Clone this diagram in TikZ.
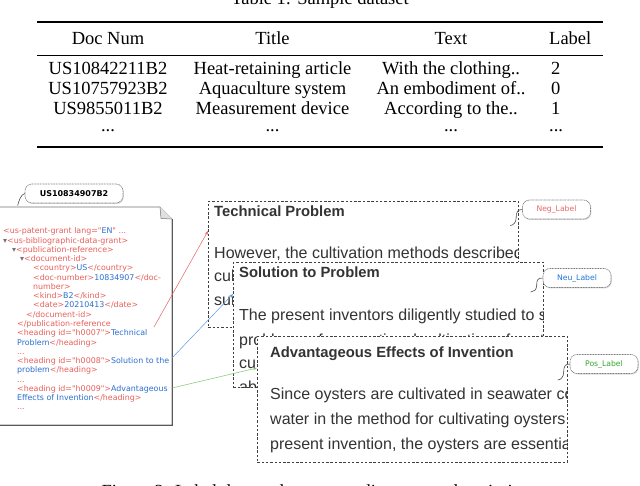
\documentclass[tikz,border=0pt]{standalone}
\usepackage{fontspec}
\setmainfont{Liberation Serif}
\newfontfamily\xmlf{DejaVu Sans}
\newfontfamily\panf{Liberation Sans}
\usetikzlibrary{arrows.meta,shadows}
\definecolor{xred}{HTML}{E8605A}
\definecolor{xblue}{HTML}{2A6FD0}
\definecolor{ptext}{HTML}{333333}
\definecolor{negc}{HTML}{E86A6A}
\definecolor{neuc}{HTML}{2277DD}
\definecolor{posc}{HTML}{33AA33}
\definecolor{arred}{HTML}{E06666}
\definecolor{arblue}{HTML}{5B9BE0}
\definecolor{argreen}{HTML}{7CC46A}
\newcommand\xt[1]{\textcolor{xred}{#1}}
\newcommand\xv[1]{\textcolor{xblue}{#1}}
\newcommand\xtri{\textcolor{black!55}{▾}}
\begin{document}
\begin{tikzpicture}[x=1pt,y=-1pt,
  tbl/.style={font=\fontsize{18.5}{20}\selectfont, inner sep=0pt, anchor=base},
  tbll/.style={font=\fontsize{18.5}{20}\selectfont, inner sep=0pt, anchor=base west},
  xml/.style={font=\xmlf\fontsize{7.9}{9}\selectfont, inner sep=0pt, anchor=base west, text=xred},
  ptitle/.style={font=\panf\bfseries\fontsize{14.8}{16}\selectfont, text=ptext, inner sep=0pt, anchor=base west},
  pbody/.style={font=\panf\fontsize{16}{18}\selectfont, text=ptext, inner sep=0pt, anchor=base west},
  panel/.style={draw=black!75, fill=white, dash pattern=on 2.5pt off 1.8pt, line width=0.7pt, anchor=north west, inner sep=0pt},
  lbl/.style={draw=black!50, fill=white, dash pattern=on 1pt off 0.6pt, line width=0.6pt, rounded corners=7pt,
    drop shadow={opacity=0.3, shadow xshift=0.8pt, shadow yshift=-1pt},
    font=\xmlf\fontsize{7.7}{8}\selectfont, minimum width=68pt, minimum height=19pt, inner sep=0pt},
  tail/.style={draw=black!70, line width=0.6pt},
  conn/.style={line width=0.5pt, -{Stealth[length=4pt,width=3pt]}},
  rule/.style={line width=#1}
]
\useasboundingbox (0,0) rectangle (640,486);
\clip (0,0) rectangle (640,486);

% ---------- table ----------
\node[tbl] (ttl) at (320,4.5) {Table 1: Sample dataset};
\draw[rule=1.4pt] (37,22) -- (603,22);
\draw[rule=0.8pt] (37,55) -- (603,55);
\draw[rule=1.4pt] (37,147) -- (603,147);

\node[tbl] (h1) at (108,45) {Doc Num};
\node[tbl] (h2) at (272.5,45) {Title};
\node[tbl] (h3) at (451,45) {Text};
\node[tbll] (h4) at (549,45) {Label};

\node[tbl] (r1a) at (108,75) {US10842211B2};
\node[tbl] (r1b) at (272.5,75) {Heat-retaining article};
\node[tbl] (r1c) at (451,75) {With the clothing..};
\node[tbll] (r1d) at (551,75) {2};

\node[tbl] (r2a) at (108,95) {US10757923B2};
\node[tbl] (r2b) at (272.5,95) {Aquaculture system};
\node[tbl] (r2c) at (451,95) {An embodiment of..};
\node[tbll] (r2d) at (551,95) {0};

\node[tbl] (r3a) at (108,115) {US9855011B2};
\node[tbl] (r3b) at (272.5,115) {Measurement device};
\node[tbl] (r3c) at (451,115) {According to the..};
\node[tbll] (r3d) at (551,115) {1};

\node[tbl] (r4a) at (108,132) {...};
\node[tbl] (r4b) at (272.5,132) {...};
\node[tbl] (r4c) at (451,132) {...};
\node[tbll] (r4d) at (549,132) {...};

% ---------- XML document ----------
\draw[draw=black!55, line width=0.7pt, fill=white] (-5,207) -- (160,207) -- (172,219) -- (172,425) -- (-5,425);
\fill[black!12] (160,207) -- (161,218.5) -- (172,219) -- cycle;
\draw[black!55, line width=0.5pt] (160,207) -- (161,218.5) -- (172,219);
\draw[black!65, line width=1.3pt] (172.6,219.5) -- (172.6,425.6) -- (-5,425.6);

\node[lbl, minimum width=98pt, minimum height=19pt, font=\xmlf\bfseries\fontsize{8}{9}\selectfont] (docid) at (74,193.5) {US10834907B2};
\draw[tail] (docid.west) .. controls +(-4,1) and +(1,-4) .. +(-7,12);

\node[xml] (x1)  at (3,234)     {<us-patent-grant lang="\xv{EN}" ...};
\node[xml] (x2)  at (3,243.25)  {\xtri<us-bibliographic-data-grant>};
\node[xml] (x3)  at (12,252.5)  {\xtri<publication-reference>};
\node[xml] (x4)  at (20,261.75) {\xtri<document-id>};
\node[xml] (x5)  at (33,271)    {<country>\xv{US}</country>};
\node[xml] (x6)  at (33,280.25) {<doc-number>\xv{10834907}</doc-};
\node[xml] (x7)  at (33,289.5)  {number>};
\node[xml] (x8)  at (33,298.75) {<kind>\xv{B2}</kind>};
\node[xml] (x9)  at (33,308)    {<date>\xv{20210413}</date>};
\node[xml] (x10) at (26,317.25) {</document-id>};
\node[xml] (x11) at (17,326.5)  {</publication-reference};
\node[xml] (x12) at (17,335.75) {<heading id="h0007">\xv{Technical}};
\node[xml] (x13) at (17,345)    {\xv{Problem}</heading>};
\node[xml] (x14) at (17,354.25) {...};
\node[xml] (x15) at (17,363.5)  {<heading id="h0008">\xv{Solution to the}};
\node[xml] (x16) at (17,372.75) {\xv{problem}</heading>};
\node[xml] (x17) at (17,382)    {...};
\node[xml] (x18) at (17,391.25) {<heading id="h0009">\xv{Advantageous}};
\node[xml] (x19) at (17,400.5)  {\xv{Effects of Invention}</heading>};
\node[xml] (x20) at (17,409.75) {...};

% ---------- panels ----------
\node[panel, minimum width=310pt, minimum height=126pt] (p1) at (208,201) {};
\begin{scope}
\clip (p1.north west) rectangle (p1.south east);
\node[ptitle] (p1t) at (214,217) {Technical Problem};
\node[pbody] (p1a) at (214,258.5) {However, the cultivation methods described in};
\node[pbody] (p1b) at (214,282) {cultivation};
\node[pbody] (p1c) at (214,305.5) {surface};
\end{scope}

\node[panel, minimum width=310pt, minimum height=125pt] (p2) at (233,262) {};
\begin{scope}
\clip (p2.north west) rectangle (p2.south east);
\node[ptitle] (p2t) at (239,278) {Solution to Problem};
\node[pbody] (p2a) at (239,320) {The present inventors diligently studied to solve};
\node[pbody] (p2b) at (239,345.5) {problems of conventional cultivation of oysters};
\node[pbody] (p2c) at (239,368.5) {cultivating};
\node[pbody] (p2d) at (239,392) {above};
\end{scope}

\node[panel, minimum width=310pt, minimum height=126pt] (p3) at (257,336) {};
\begin{scope}
\clip (p3.north west) rectangle (p3.south east);
\node[ptitle] (p3t) at (270,358) {Advantageous Effects of Invention};
\node[pbody] (p3a) at (270,399) {Since oysters are cultivated in seawater containing};
\node[pbody] (p3b) at (270,424) {water in the method for cultivating oysters of the};
\node[pbody] (p3c) at (270,449) {present invention, the oysters are essentially};
\end{scope}

% ---------- label callouts ----------
\node[lbl, text=negc] (neg) at (556.5,209.5) {Neg\_Label};
\node[lbl, text=neuc] (neu) at (577,278) {Neu\_Label};
\node[lbl, text=posc] (pos) at (604,364) {Pos\_Label};
\draw[tail] (neg.west) .. controls +(-5,0) and +(0,-5) .. ++(-6,8) .. controls +(0,5) and +(3,0) .. ++(-6,8);
\draw[tail] (neu.west) .. controls +(-5,0) and +(0,-5) .. ++(-6,7) .. controls +(0,5) and +(3,0) .. ++(-6,7);
\draw[tail] (pos.west) .. controls +(-5,0) and +(0,-5) .. ++(-6,8) .. controls +(0,5) and +(3,0) .. ++(-6,8);

% ---------- connectors ----------
\coordinate (s1) at (154,327);
\coordinate (e1) at (208,231);
\coordinate (s2) at (172,358);
\coordinate (e2) at (233,294);
\coordinate (s3) at (172,388);
\coordinate (e3) at (257,368);
\draw[conn, arred] (s1) -- (e1);
\draw[conn, arblue] (s2) -- (e2);
\draw[conn, argreen] (s3) -- (e3);

% ---------- caption (cut off) ----------
\node[tbl] (cap) at (320,497.5) {Figure 2: Label data and corresponding patent descriptions};
\end{tikzpicture}
\end{document}
